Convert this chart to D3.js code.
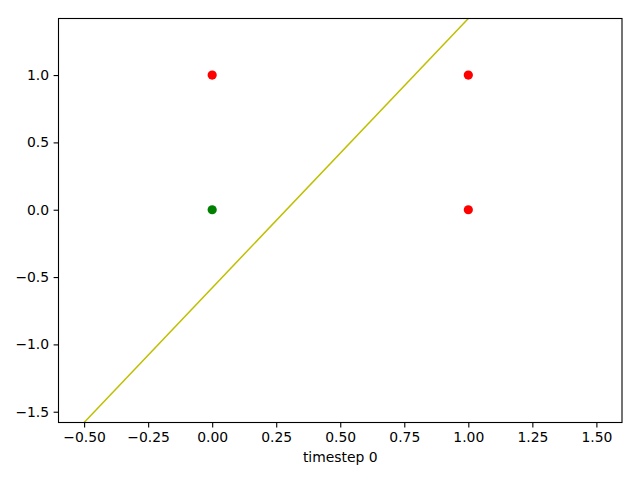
<!DOCTYPE html>
<html>
<head>
<meta charset="utf-8">
<script src="https://cdn.jsdelivr.net/npm/d3@7"></script>
<style>
  body { margin: 0; background: #fff; }
  svg { display: block; font-family: "DejaVu Sans", sans-serif; }
</style>
</head>
<body>
<script>
'use strict'

// points of the grid, colour per class
const pointX = [0, 1, 0, 1];
const pointY = [1, 1, 0, 0];
const pointColor = ['red', 'red', 'green', 'red'];

// separating line, two ends
const lineX = [-0.5, 1.0];
const lineY = [-1.58, 1.42];

const xDomain = [-0.6, 1.6];
const yDomain = [-1.58, 1.42];
const xTicks = [-0.5, -0.25, 0, 0.25, 0.5, 0.75, 1.0, 1.25, 1.5];
const yTicks = [-1.5, -1.0, -0.5, 0.0, 0.5, 1.0];
const xLabel = 'timestep 0';

const width = 640, height = 480;
const margin = {top: 18.5, right: 18, bottom: 57.5, left: 58.5};

const svg = d3.select('body').append('svg')
  .attr('width', width)
  .attr('height', height);

const x = d3.scaleLinear().domain(xDomain).range([margin.left, width - margin.right]);
const y = d3.scaleLinear().domain(yDomain).range([height - margin.bottom, margin.top]);

const fmt = (n, d) => (n < 0 ? '\u2212' : '') + Math.abs(n).toFixed(d);

svg.append('clipPath').attr('id', 'clip')
  .append('rect')
  .attr('x', margin.left).attr('y', margin.top)
  .attr('width', x.range()[1] - x.range()[0])
  .attr('height', y.range()[0] - y.range()[1]);

const plot = svg.append('g').attr('clip-path', 'url(#clip)');

const line = d3.line().x(d => x(d[0])).y(d => y(d[1]));
plot.append('path')
  .datum(d3.zip(lineX, lineY))
  .attr('d', line)
  .attr('fill', 'none')
  .attr('stroke', '#bfbf00')
  .attr('stroke-width', 1.5);

plot.selectAll('circle')
  .data(d3.zip(pointX, pointY, pointColor))
  .enter()
  .append('circle')
  .attr('cx', d => x(d[0]))
  .attr('cy', d => y(d[1]))
  .attr('r', 4.6)
  .attr('fill', d => d[2]);

// axes
const xAxis = d3.axisBottom(x).tickValues(xTicks).tickSize(4.9).tickPadding(4.5)
  .tickFormat(d => fmt(d, 2));
const yAxis = d3.axisLeft(y).tickValues(yTicks).tickSize(4.9).tickPadding(4.5)
  .tickFormat(d => fmt(d, 1));

const gx = svg.append('g')
  .attr('transform', 'translate(0,' + y.range()[0] + ')')
  .call(xAxis);
const gy = svg.append('g')
  .attr('transform', 'translate(' + margin.left + ',0)')
  .call(yAxis);

[gx, gy].forEach(g => {
  g.select('.domain').remove();
  g.selectAll('line').attr('stroke', '#000').attr('stroke-width', 1.1);
  g.selectAll('text').attr('fill', '#000').style('font-size', '13.9px')
    .style('font-family', '"DejaVu Sans", sans-serif');
});

// frame
svg.append('rect')
  .attr('x', margin.left).attr('y', margin.top)
  .attr('width', x.range()[1] - x.range()[0])
  .attr('height', y.range()[0] - y.range()[1])
  .attr('fill', 'none')
  .attr('stroke', '#000')
  .attr('stroke-width', 1.1);

svg.append('text')
  .attr('x', (x.range()[0] + x.range()[1]) / 2)
  .attr('y', 462)
  .attr('text-anchor', 'middle')
  .style('font-size', '13.9px')
  .text(xLabel);
</script>
</body>
</html>
